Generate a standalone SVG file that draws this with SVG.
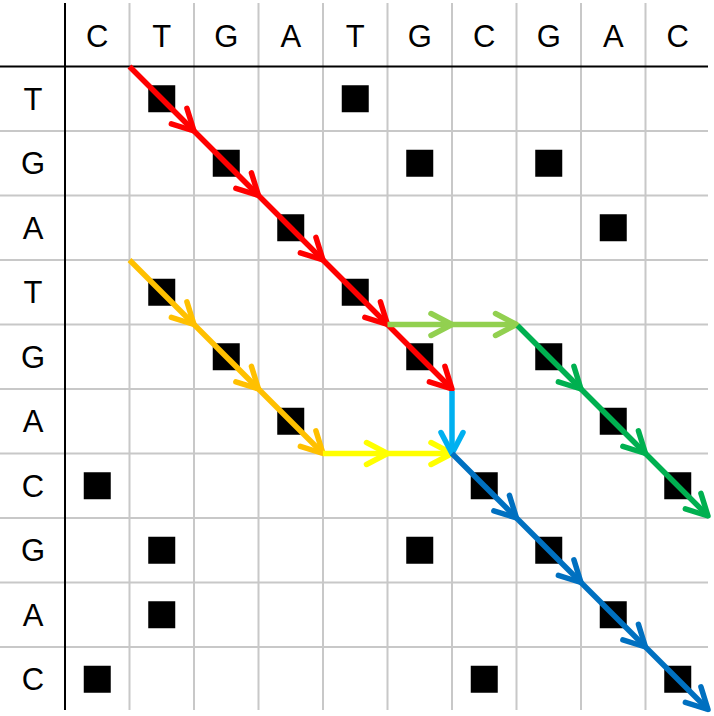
<svg xmlns="http://www.w3.org/2000/svg" width="714" height="716" viewBox="0 0 714 716">
<style>
.g{stroke:#c8c8c8;stroke-width:2}
.k{stroke:#000;stroke-width:2}
.t{font-family:"Liberation Sans",Arial,sans-serif;font-size:31px;fill:#000;text-anchor:middle}
.sq{fill:#000}
.a{stroke-width:5.5;fill:none;stroke-linecap:butt}
.mh{fill:none;stroke-width:5.5;stroke-linecap:round;stroke-linejoin:round}
</style>
<defs>
<marker id="mr" markerUnits="userSpaceOnUse" orient="auto" overflow="visible" refX="0" refY="0"><path class="mh" stroke="#ff0000" d="M-21,-11 L0,0 L-21,11"/></marker>
<marker id="mo" markerUnits="userSpaceOnUse" orient="auto" overflow="visible" refX="0" refY="0"><path class="mh" stroke="#ffc000" d="M-21,-11 L0,0 L-21,11"/></marker>
<marker id="my" markerUnits="userSpaceOnUse" orient="auto" overflow="visible" refX="0" refY="0"><path class="mh" stroke="#ffff00" d="M-21,-11 L0,0 L-21,11"/></marker>
<marker id="ml" markerUnits="userSpaceOnUse" orient="auto" overflow="visible" refX="0" refY="0"><path class="mh" stroke="#92d050" d="M-21,-11 L0,0 L-21,11"/></marker>
<marker id="mg" markerUnits="userSpaceOnUse" orient="auto" overflow="visible" refX="0" refY="0"><path class="mh" stroke="#00b050" d="M-21,-11 L0,0 L-21,11"/></marker>
<marker id="mc" markerUnits="userSpaceOnUse" orient="auto" overflow="visible" refX="0" refY="0"><path class="mh" stroke="#00b0f0" d="M-21,-11 L0,0 L-21,11"/></marker>
<marker id="mb" markerUnits="userSpaceOnUse" orient="auto" overflow="visible" refX="0" refY="0"><path class="mh" stroke="#0070c0" d="M-21,-11 L0,0 L-21,11"/></marker>
</defs>
<rect width="714" height="716" fill="#fff"/>
<g id="grid">
<line class="g" x1="129.5" y1="3" x2="129.5" y2="710"/>
<line class="g" x1="194" y1="3" x2="194" y2="710"/>
<line class="g" x1="258.5" y1="3" x2="258.5" y2="710"/>
<line class="g" x1="323" y1="3" x2="323" y2="710"/>
<line class="g" x1="387.5" y1="3" x2="387.5" y2="710"/>
<line class="g" x1="452" y1="3" x2="452" y2="710"/>
<line class="g" x1="516.5" y1="3" x2="516.5" y2="710"/>
<line class="g" x1="581" y1="3" x2="581" y2="710"/>
<line class="g" x1="645.5" y1="3" x2="645.5" y2="710"/>
<line class="g" x1="0" y1="131" x2="708" y2="131"/>
<line class="g" x1="0" y1="195.5" x2="708" y2="195.5"/>
<line class="g" x1="0" y1="260" x2="708" y2="260"/>
<line class="g" x1="0" y1="324.5" x2="708" y2="324.5"/>
<line class="g" x1="0" y1="389" x2="708" y2="389"/>
<line class="g" x1="0" y1="453.5" x2="708" y2="453.5"/>
<line class="g" x1="0" y1="518" x2="708" y2="518"/>
<line class="g" x1="0" y1="582.5" x2="708" y2="582.5"/>
<line class="g" x1="0" y1="647" x2="708" y2="647"/>
<line class="k" x1="65" y1="3" x2="65" y2="710"/>
<line class="k" x1="0" y1="66.5" x2="708" y2="66.5"/>
</g>
<g id="col-headers">
<text class="t" x="97.25" y="47">C</text>
<text class="t" x="161.75" y="47">T</text>
<text class="t" x="226.25" y="47">G</text>
<text class="t" x="290.75" y="47">A</text>
<text class="t" x="355.25" y="47">T</text>
<text class="t" x="419.75" y="47">G</text>
<text class="t" x="484.25" y="47">C</text>
<text class="t" x="548.75" y="47">G</text>
<text class="t" x="613.25" y="47">A</text>
<text class="t" x="677.75" y="47">C</text>
</g>
<g id="row-headers">
<text class="t" x="33" y="109.75">T</text>
<text class="t" x="33" y="174.25">G</text>
<text class="t" x="33" y="238.75">A</text>
<text class="t" x="33" y="303.25">T</text>
<text class="t" x="33" y="367.75">G</text>
<text class="t" x="33" y="432.25">A</text>
<text class="t" x="33" y="496.75">C</text>
<text class="t" x="33" y="561.25">G</text>
<text class="t" x="33" y="625.75">A</text>
<text class="t" x="33" y="690.25">C</text>
</g>
<g id="matches">
<rect class="sq" x="148.25" y="85.25" width="27" height="27"/>
<rect class="sq" x="341.75" y="85.25" width="27" height="27"/>
<rect class="sq" x="212.75" y="149.75" width="27" height="27"/>
<rect class="sq" x="406.25" y="149.75" width="27" height="27"/>
<rect class="sq" x="535.25" y="149.75" width="27" height="27"/>
<rect class="sq" x="277.25" y="214.25" width="27" height="27"/>
<rect class="sq" x="599.75" y="214.25" width="27" height="27"/>
<rect class="sq" x="148.25" y="278.75" width="27" height="27"/>
<rect class="sq" x="341.75" y="278.75" width="27" height="27"/>
<rect class="sq" x="212.75" y="343.25" width="27" height="27"/>
<rect class="sq" x="406.25" y="343.25" width="27" height="27"/>
<rect class="sq" x="535.25" y="343.25" width="27" height="27"/>
<rect class="sq" x="277.25" y="407.75" width="27" height="27"/>
<rect class="sq" x="599.75" y="407.75" width="27" height="27"/>
<rect class="sq" x="83.75" y="472.25" width="27" height="27"/>
<rect class="sq" x="470.75" y="472.25" width="27" height="27"/>
<rect class="sq" x="664.25" y="472.25" width="27" height="27"/>
<rect class="sq" x="148.25" y="536.75" width="27" height="27"/>
<rect class="sq" x="406.25" y="536.75" width="27" height="27"/>
<rect class="sq" x="535.25" y="536.75" width="27" height="27"/>
<rect class="sq" x="148.25" y="601.25" width="27" height="27"/>
<rect class="sq" x="599.75" y="601.25" width="27" height="27"/>
<rect class="sq" x="83.75" y="665.75" width="27" height="27"/>
<rect class="sq" x="470.75" y="665.75" width="27" height="27"/>
<rect class="sq" x="664.25" y="665.75" width="27" height="27"/>
</g>
<g id="connectors">
<g id="red-path">
<line class="a" stroke="#ff0000" x1="129.5" y1="66.5" x2="194" y2="131" marker-end="url(#mr)"/>
<line class="a" stroke="#ff0000" x1="194" y1="131" x2="258.5" y2="195.5" marker-end="url(#mr)"/>
<line class="a" stroke="#ff0000" x1="258.5" y1="195.5" x2="323" y2="260" marker-end="url(#mr)"/>
<line class="a" stroke="#ff0000" x1="323" y1="260" x2="387.5" y2="324.5" marker-end="url(#mr)"/>
<line class="a" stroke="#ff0000" x1="387.5" y1="324.5" x2="452" y2="389" marker-end="url(#mr)"/>
</g>
<g id="orange-path">
<line class="a" stroke="#ffc000" x1="129.5" y1="260" x2="194" y2="324.5" marker-end="url(#mo)"/>
<line class="a" stroke="#ffc000" x1="194" y1="324.5" x2="258.5" y2="389" marker-end="url(#mo)"/>
<line class="a" stroke="#ffc000" x1="258.5" y1="389" x2="323" y2="453.5" marker-end="url(#mo)"/>
</g>
<g id="yellow-path">
<line class="a" stroke="#ffff00" x1="323" y1="453.5" x2="387.5" y2="453.5" marker-end="url(#my)"/>
<line class="a" stroke="#ffff00" x1="387.5" y1="453.5" x2="452" y2="453.5" marker-end="url(#my)"/>
</g>
<g id="lightgreen-path">
<line class="a" stroke="#92d050" x1="387.5" y1="324.5" x2="452" y2="324.5" marker-end="url(#ml)"/>
<line class="a" stroke="#92d050" x1="452" y1="324.5" x2="516.5" y2="324.5" marker-end="url(#ml)"/>
</g>
<g id="green-path">
<line class="a" stroke="#00b050" x1="517.5" y1="325.5" x2="581" y2="389" marker-end="url(#mg)"/>
<line class="a" stroke="#00b050" x1="581" y1="389" x2="645.5" y2="453.5" marker-end="url(#mg)"/>
<line class="a" stroke="#00b050" x1="645.5" y1="453.5" x2="708" y2="516" marker-end="url(#mg)"/>
</g>
<g id="cyan-path">
<line class="a" stroke="#00b0f0" x1="452" y1="391" x2="452" y2="453.5" marker-end="url(#mc)"/>
</g>
<g id="blue-path">
<line class="a" stroke="#0070c0" x1="452" y1="453.5" x2="516.5" y2="518" marker-end="url(#mb)"/>
<line class="a" stroke="#0070c0" x1="516.5" y1="518" x2="581" y2="582.5" marker-end="url(#mb)"/>
<line class="a" stroke="#0070c0" x1="581" y1="582.5" x2="645.5" y2="647" marker-end="url(#mb)"/>
<line class="a" stroke="#0070c0" x1="645.5" y1="647" x2="708" y2="709.5" marker-end="url(#mb)"/>
</g>
</g>
</svg>
